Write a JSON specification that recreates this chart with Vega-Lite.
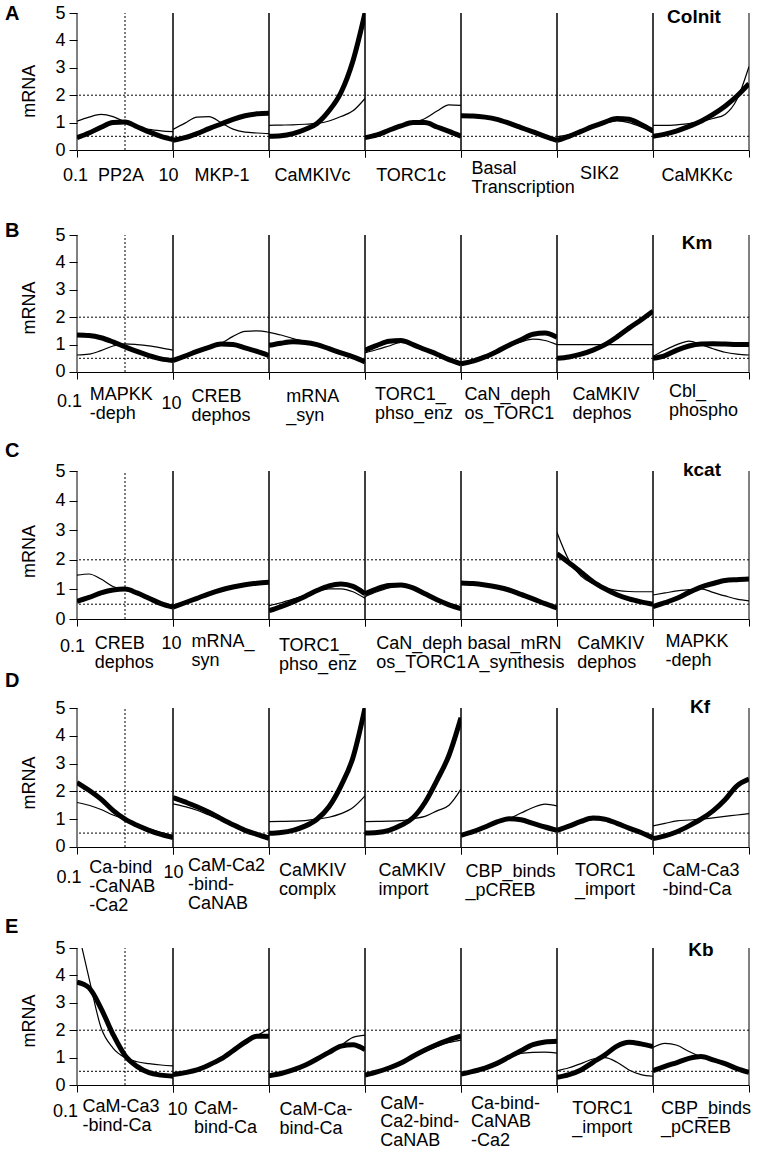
{
"$schema":"https://vega.github.io/schema/vega-lite/v6.json",
"padding":{"left":5,"top":4,"right":4,"bottom":4},
"background":"white",
"columns":7,
"spacing":{"row":85,"column":0},
"bounds":"flush",
"config":{
 "view":{"stroke":null},
 "font":"Liberation Sans",
 "mark":{"color":"#000"},
 "rule":{"color":"#000"},
 "line":{"color":"#000","interpolate":"monotone"},
 "text":{"font":"Liberation Sans","color":"#000"},
 "axis":{"labelFont":"Liberation Sans","titleFont":"Liberation Sans","labelFontSize":18,"titleFontSize":18,"titleFontWeight":"normal","labelColor":"#000","titleColor":"#000","domainColor":"#000","domainWidth":1,"tickColor":"#000","tickWidth":1,"grid":false,"labelOverlap":false},
 "axisX":{"tickSize":7,"labels":false,"titleAlign":"left","titleBaseline":"top","titleLineHeight":19},
 "axisY":{"tickSize":8,"labelPadding":4,"titlePadding":16,"domain":false,"tickCount":10}
},
"datasets":{
 "h":[{"h":0.5},{"h":2}],
 "s":[{"s":0.1},{"s":10}],
 "v":[{"v":1}],
 "o":[{"k":1}],
 "d":[
{"r":"A","p":1,"x":0.1,"a":0.45,"b":1.05},{"r":"A","p":1,"x":0.1778,"a":0.62,"b":1.2},{"r":"A","p":1,"x":0.3162,"a":0.83,"b":1.3},{"r":"A","p":1,"x":0.5623,"a":1.0,"b":1.22},{"r":"A","p":1,"x":1,"a":1.02,"b":1.02},{"r":"A","p":1,"x":1.778,"a":0.85,"b":0.84},{"r":"A","p":1,"x":3.162,"a":0.66,"b":0.75},{"r":"A","p":1,"x":5.623,"a":0.5,"b":0.7},{"r":"A","p":1,"x":10,"a":0.38,"b":0.67},
{"r":"A","p":2,"x":0.1,"a":0.35,"b":0.75},{"r":"A","p":2,"x":0.1778,"a":0.45,"b":0.98},{"r":"A","p":2,"x":0.3162,"a":0.6,"b":1.2},{"r":"A","p":2,"x":0.5623,"a":0.78,"b":1.22},{"r":"A","p":2,"x":1,"a":0.95,"b":1.0},{"r":"A","p":2,"x":1.778,"a":1.12,"b":0.76},{"r":"A","p":2,"x":3.162,"a":1.25,"b":0.65},{"r":"A","p":2,"x":5.623,"a":1.32,"b":0.62},{"r":"A","p":2,"x":10,"a":1.34,"b":0.6},
{"r":"A","p":3,"x":0.1,"a":0.5,"b":0.9},{"r":"A","p":3,"x":0.1778,"a":0.52,"b":0.91},{"r":"A","p":3,"x":0.3162,"a":0.6,"b":0.92},{"r":"A","p":3,"x":0.5623,"a":0.75,"b":0.94},{"r":"A","p":3,"x":1,"a":0.97,"b":0.97},{"r":"A","p":3,"x":1.778,"a":1.43,"b":1.06},{"r":"A","p":3,"x":3.162,"a":2.1,"b":1.22},{"r":"A","p":3,"x":5.623,"a":3.26,"b":1.43},{"r":"A","p":3,"x":10,"a":5.0,"b":1.88},
{"r":"A","p":4,"x":0.1,"a":0.45,"b":0.45},{"r":"A","p":4,"x":0.1778,"a":0.55,"b":0.57},{"r":"A","p":4,"x":0.3162,"a":0.72,"b":0.75},{"r":"A","p":4,"x":0.5623,"a":0.88,"b":0.9},{"r":"A","p":4,"x":1,"a":1.0,"b":1.0},{"r":"A","p":4,"x":1.778,"a":1.0,"b":1.15},{"r":"A","p":4,"x":3.162,"a":0.84,"b":1.42},{"r":"A","p":4,"x":5.623,"a":0.68,"b":1.65},{"r":"A","p":4,"x":10,"a":0.5,"b":1.63},
{"r":"A","p":5,"x":0.1,"a":1.25,"b":1.22},{"r":"A","p":5,"x":0.1778,"a":1.24,"b":1.22},{"r":"A","p":5,"x":0.3162,"a":1.2,"b":1.18},{"r":"A","p":5,"x":0.5623,"a":1.12,"b":1.1},{"r":"A","p":5,"x":1,"a":0.98,"b":0.97},{"r":"A","p":5,"x":1.778,"a":0.82,"b":0.81},{"r":"A","p":5,"x":3.162,"a":0.66,"b":0.65},{"r":"A","p":5,"x":5.623,"a":0.5,"b":0.5},{"r":"A","p":5,"x":10,"a":0.35,"b":0.37},
{"r":"A","p":6,"x":0.1,"a":0.35,"b":0.48},{"r":"A","p":6,"x":0.1778,"a":0.5,"b":0.56},{"r":"A","p":6,"x":0.3162,"a":0.68,"b":0.7},{"r":"A","p":6,"x":0.5623,"a":0.86,"b":0.85},{"r":"A","p":6,"x":1,"a":1.02,"b":0.98},{"r":"A","p":6,"x":1.778,"a":1.15,"b":1.06},{"r":"A","p":6,"x":3.162,"a":1.12,"b":1.0},{"r":"A","p":6,"x":5.623,"a":0.93,"b":0.84},{"r":"A","p":6,"x":10,"a":0.7,"b":0.62},
{"r":"A","p":7,"x":0.1,"a":0.5,"b":0.9},{"r":"A","p":7,"x":0.1778,"a":0.58,"b":0.9},{"r":"A","p":7,"x":0.3162,"a":0.7,"b":0.92},{"r":"A","p":7,"x":0.5623,"a":0.86,"b":0.96},{"r":"A","p":7,"x":1,"a":1.05,"b":1.05},{"r":"A","p":7,"x":1.778,"a":1.3,"b":1.15},{"r":"A","p":7,"x":3.162,"a":1.6,"b":1.3},{"r":"A","p":7,"x":5.623,"a":1.97,"b":1.85},{"r":"A","p":7,"x":10,"a":2.42,"b":3.05},
{"r":"B","p":1,"x":0.1,"a":1.35,"b":0.62},{"r":"B","p":1,"x":0.1778,"a":1.33,"b":0.65},{"r":"B","p":1,"x":0.3162,"a":1.25,"b":0.78},{"r":"B","p":1,"x":0.5623,"a":1.1,"b":0.95},{"r":"B","p":1,"x":1,"a":0.92,"b":1.03},{"r":"B","p":1,"x":1.778,"a":0.75,"b":1.0},{"r":"B","p":1,"x":3.162,"a":0.6,"b":0.95},{"r":"B","p":1,"x":5.623,"a":0.48,"b":0.88},{"r":"B","p":1,"x":10,"a":0.42,"b":0.8},
{"r":"B","p":2,"x":0.1,"a":0.42,"b":0.42},{"r":"B","p":2,"x":0.1778,"a":0.58,"b":0.58},{"r":"B","p":2,"x":0.3162,"a":0.75,"b":0.75},{"r":"B","p":2,"x":0.5623,"a":0.9,"b":0.9},{"r":"B","p":2,"x":1,"a":1.02,"b":1.05},{"r":"B","p":2,"x":1.778,"a":1.0,"b":1.3},{"r":"B","p":2,"x":3.162,"a":0.88,"b":1.48},{"r":"B","p":2,"x":5.623,"a":0.75,"b":1.5},{"r":"B","p":2,"x":10,"a":0.6,"b":1.45},
{"r":"B","p":3,"x":0.1,"a":0.97,"b":1.45},{"r":"B","p":3,"x":0.1778,"a":1.05,"b":1.35},{"r":"B","p":3,"x":0.3162,"a":1.1,"b":1.22},{"r":"B","p":3,"x":0.5623,"a":1.08,"b":1.12},{"r":"B","p":3,"x":1,"a":1.0,"b":1.0},{"r":"B","p":3,"x":1.778,"a":0.85,"b":0.85},{"r":"B","p":3,"x":3.162,"a":0.7,"b":0.7},{"r":"B","p":3,"x":5.623,"a":0.55,"b":0.55},{"r":"B","p":3,"x":10,"a":0.37,"b":0.4},
{"r":"B","p":4,"x":0.1,"a":0.8,"b":0.7},{"r":"B","p":4,"x":0.1778,"a":0.97,"b":0.82},{"r":"B","p":4,"x":0.3162,"a":1.12,"b":0.95},{"r":"B","p":4,"x":0.5623,"a":1.15,"b":1.08},{"r":"B","p":4,"x":1,"a":1.0,"b":1.0},{"r":"B","p":4,"x":1.778,"a":0.82,"b":0.85},{"r":"B","p":4,"x":3.162,"a":0.65,"b":0.65},{"r":"B","p":4,"x":5.623,"a":0.45,"b":0.48},{"r":"B","p":4,"x":10,"a":0.3,"b":0.35},
{"r":"B","p":5,"x":0.1,"a":0.3,"b":0.35},{"r":"B","p":5,"x":0.1778,"a":0.4,"b":0.43},{"r":"B","p":5,"x":0.3162,"a":0.55,"b":0.55},{"r":"B","p":5,"x":0.5623,"a":0.75,"b":0.73},{"r":"B","p":5,"x":1,"a":0.98,"b":0.95},{"r":"B","p":5,"x":1.778,"a":1.18,"b":1.1},{"r":"B","p":5,"x":3.162,"a":1.38,"b":1.2},{"r":"B","p":5,"x":5.623,"a":1.42,"b":1.15},{"r":"B","p":5,"x":10,"a":1.27,"b":1.0},
{"r":"B","p":6,"x":0.1,"a":0.5,"b":1},{"r":"B","p":6,"x":0.1778,"a":0.55,"b":1},{"r":"B","p":6,"x":0.3162,"a":0.65,"b":1},{"r":"B","p":6,"x":0.5623,"a":0.8,"b":1},{"r":"B","p":6,"x":1,"a":1.0,"b":1},{"r":"B","p":6,"x":1.778,"a":1.28,"b":1},{"r":"B","p":6,"x":3.162,"a":1.6,"b":1},{"r":"B","p":6,"x":5.623,"a":1.9,"b":1},{"r":"B","p":6,"x":10,"a":2.22,"b":1},
{"r":"B","p":7,"x":0.1,"a":0.5,"b":0.57},{"r":"B","p":7,"x":0.1778,"a":0.6,"b":0.8},{"r":"B","p":7,"x":0.3162,"a":0.8,"b":1.0},{"r":"B","p":7,"x":0.5623,"a":0.95,"b":1.13},{"r":"B","p":7,"x":1,"a":1.02,"b":1.0},{"r":"B","p":7,"x":1.778,"a":1.03,"b":0.85},{"r":"B","p":7,"x":3.162,"a":1.02,"b":0.72},{"r":"B","p":7,"x":5.623,"a":1.0,"b":0.65},{"r":"B","p":7,"x":10,"a":1.0,"b":0.62},
{"r":"C","p":1,"x":0.1,"a":0.6,"b":1.48},{"r":"C","p":1,"x":0.1778,"a":0.73,"b":1.52},{"r":"C","p":1,"x":0.3162,"a":0.88,"b":1.35},{"r":"C","p":1,"x":0.5623,"a":0.98,"b":1.1},{"r":"C","p":1,"x":1,"a":1.01,"b":1.0},{"r":"C","p":1,"x":1.778,"a":0.88,"b":0.87},{"r":"C","p":1,"x":3.162,"a":0.7,"b":0.7},{"r":"C","p":1,"x":5.623,"a":0.52,"b":0.52},{"r":"C","p":1,"x":10,"a":0.4,"b":0.4},
{"r":"C","p":2,"x":0.1,"a":0.4,"b":0.4},{"r":"C","p":2,"x":0.1778,"a":0.55,"b":0.55},{"r":"C","p":2,"x":0.3162,"a":0.7,"b":0.7},{"r":"C","p":2,"x":0.5623,"a":0.85,"b":0.85},{"r":"C","p":2,"x":1,"a":0.98,"b":0.98},{"r":"C","p":2,"x":1.778,"a":1.08,"b":1.08},{"r":"C","p":2,"x":3.162,"a":1.16,"b":1.15},{"r":"C","p":2,"x":5.623,"a":1.21,"b":1.2},{"r":"C","p":2,"x":10,"a":1.24,"b":1.22},
{"r":"C","p":3,"x":0.1,"a":0.28,"b":0.45},{"r":"C","p":3,"x":0.1778,"a":0.42,"b":0.55},{"r":"C","p":3,"x":0.3162,"a":0.58,"b":0.67},{"r":"C","p":3,"x":0.5623,"a":0.76,"b":0.8},{"r":"C","p":3,"x":1,"a":0.96,"b":0.93},{"r":"C","p":3,"x":1.778,"a":1.12,"b":1.02},{"r":"C","p":3,"x":3.162,"a":1.18,"b":1.02},{"r":"C","p":3,"x":5.623,"a":1.1,"b":0.92},{"r":"C","p":3,"x":10,"a":0.85,"b":0.7},
{"r":"C","p":4,"x":0.1,"a":0.85,"b":0.75},{"r":"C","p":4,"x":0.1778,"a":1.02,"b":0.92},{"r":"C","p":4,"x":0.3162,"a":1.13,"b":1.05},{"r":"C","p":4,"x":0.5623,"a":1.15,"b":1.1},{"r":"C","p":4,"x":1,"a":1.05,"b":1.03},{"r":"C","p":4,"x":1.778,"a":0.85,"b":0.83},{"r":"C","p":4,"x":3.162,"a":0.65,"b":0.62},{"r":"C","p":4,"x":5.623,"a":0.48,"b":0.45},{"r":"C","p":4,"x":10,"a":0.35,"b":0.3},
{"r":"C","p":5,"x":0.1,"a":1.22,"b":1.2},{"r":"C","p":5,"x":0.1778,"a":1.2,"b":1.19},{"r":"C","p":5,"x":0.3162,"a":1.15,"b":1.14},{"r":"C","p":5,"x":0.5623,"a":1.08,"b":1.07},{"r":"C","p":5,"x":1,"a":0.98,"b":0.97},{"r":"C","p":5,"x":1.778,"a":0.83,"b":0.82},{"r":"C","p":5,"x":3.162,"a":0.68,"b":0.67},{"r":"C","p":5,"x":5.623,"a":0.52,"b":0.51},{"r":"C","p":5,"x":10,"a":0.37,"b":0.36},
{"r":"C","p":6,"x":0.1,"a":2.2,"b":2.92},{"r":"C","p":6,"x":0.1778,"a":1.9,"b":1.98},{"r":"C","p":6,"x":0.3162,"a":1.58,"b":1.45},{"r":"C","p":6,"x":0.5623,"a":1.26,"b":1.2},{"r":"C","p":6,"x":1,"a":1.02,"b":1.05},{"r":"C","p":6,"x":1.778,"a":0.82,"b":0.97},{"r":"C","p":6,"x":3.162,"a":0.68,"b":0.93},{"r":"C","p":6,"x":5.623,"a":0.58,"b":0.92},{"r":"C","p":6,"x":10,"a":0.5,"b":0.92},
{"r":"C","p":7,"x":0.1,"a":0.42,"b":0.81},{"r":"C","p":7,"x":0.1778,"a":0.55,"b":0.88},{"r":"C","p":7,"x":0.3162,"a":0.7,"b":0.95},{"r":"C","p":7,"x":0.5623,"a":0.9,"b":0.99},{"r":"C","p":7,"x":1,"a":1.08,"b":1.02},{"r":"C","p":7,"x":1.778,"a":1.2,"b":0.9},{"r":"C","p":7,"x":3.162,"a":1.3,"b":0.78},{"r":"C","p":7,"x":5.623,"a":1.33,"b":0.67},{"r":"C","p":7,"x":10,"a":1.35,"b":0.61},
{"r":"D","p":1,"x":0.1,"a":2.32,"b":1.6},{"r":"D","p":1,"x":0.1778,"a":2.04,"b":1.5},{"r":"D","p":1,"x":0.3162,"a":1.72,"b":1.35},{"r":"D","p":1,"x":0.5623,"a":1.32,"b":1.15},{"r":"D","p":1,"x":1,"a":1.0,"b":1.0},{"r":"D","p":1,"x":1.778,"a":0.78,"b":0.82},{"r":"D","p":1,"x":3.162,"a":0.6,"b":0.65},{"r":"D","p":1,"x":5.623,"a":0.45,"b":0.52},{"r":"D","p":1,"x":10,"a":0.34,"b":0.42},
{"r":"D","p":2,"x":0.1,"a":1.78,"b":1.55},{"r":"D","p":2,"x":0.1778,"a":1.62,"b":1.45},{"r":"D","p":2,"x":0.3162,"a":1.45,"b":1.32},{"r":"D","p":2,"x":0.5623,"a":1.25,"b":1.15},{"r":"D","p":2,"x":1,"a":1.02,"b":0.98},{"r":"D","p":2,"x":1.778,"a":0.8,"b":0.8},{"r":"D","p":2,"x":3.162,"a":0.6,"b":0.62},{"r":"D","p":2,"x":5.623,"a":0.45,"b":0.48},{"r":"D","p":2,"x":10,"a":0.31,"b":0.4},
{"r":"D","p":3,"x":0.1,"a":0.49,"b":0.91},{"r":"D","p":3,"x":0.1778,"a":0.52,"b":0.92},{"r":"D","p":3,"x":0.3162,"a":0.6,"b":0.93},{"r":"D","p":3,"x":0.5623,"a":0.75,"b":0.95},{"r":"D","p":3,"x":1,"a":1.0,"b":1.0},{"r":"D","p":3,"x":1.778,"a":1.45,"b":1.07},{"r":"D","p":3,"x":3.162,"a":2.2,"b":1.2},{"r":"D","p":3,"x":5.623,"a":3.22,"b":1.42},{"r":"D","p":3,"x":10,"a":5.0,"b":1.84},
{"r":"D","p":4,"x":0.1,"a":0.5,"b":0.91},{"r":"D","p":4,"x":0.1778,"a":0.52,"b":0.92},{"r":"D","p":4,"x":0.3162,"a":0.6,"b":0.93},{"r":"D","p":4,"x":0.5623,"a":0.78,"b":0.95},{"r":"D","p":4,"x":1,"a":1.05,"b":1.02},{"r":"D","p":4,"x":1.778,"a":1.6,"b":1.1},{"r":"D","p":4,"x":3.162,"a":2.4,"b":1.3},{"r":"D","p":4,"x":5.623,"a":3.3,"b":1.5},{"r":"D","p":4,"x":10,"a":4.65,"b":2.08},
{"r":"D","p":5,"x":0.1,"a":0.42,"b":0.42},{"r":"D","p":5,"x":0.1778,"a":0.55,"b":0.55},{"r":"D","p":5,"x":0.3162,"a":0.72,"b":0.72},{"r":"D","p":5,"x":0.5623,"a":0.9,"b":0.9},{"r":"D","p":5,"x":1,"a":1.02,"b":1.02},{"r":"D","p":5,"x":1.778,"a":0.98,"b":1.22},{"r":"D","p":5,"x":3.162,"a":0.85,"b":1.42},{"r":"D","p":5,"x":5.623,"a":0.72,"b":1.54},{"r":"D","p":5,"x":10,"a":0.6,"b":1.48},
{"r":"D","p":6,"x":0.1,"a":0.6,"b":0.6},{"r":"D","p":6,"x":0.1778,"a":0.75,"b":0.72},{"r":"D","p":6,"x":0.3162,"a":0.92,"b":0.88},{"r":"D","p":6,"x":0.5623,"a":1.04,"b":0.98},{"r":"D","p":6,"x":1,"a":1.0,"b":0.97},{"r":"D","p":6,"x":1.778,"a":0.85,"b":0.85},{"r":"D","p":6,"x":3.162,"a":0.68,"b":0.7},{"r":"D","p":6,"x":5.623,"a":0.52,"b":0.55},{"r":"D","p":6,"x":10,"a":0.32,"b":0.42},
{"r":"D","p":7,"x":0.1,"a":0.3,"b":0.76},{"r":"D","p":7,"x":0.1778,"a":0.4,"b":0.85},{"r":"D","p":7,"x":0.3162,"a":0.55,"b":0.94},{"r":"D","p":7,"x":0.5623,"a":0.76,"b":0.97},{"r":"D","p":7,"x":1,"a":1.0,"b":1.0},{"r":"D","p":7,"x":1.778,"a":1.3,"b":1.05},{"r":"D","p":7,"x":3.162,"a":1.7,"b":1.1},{"r":"D","p":7,"x":5.623,"a":2.2,"b":1.15},{"r":"D","p":7,"x":10,"a":2.44,"b":1.2},
{"r":"E","p":1,"x":0.1,"a":3.75,"b":5.8},{"r":"E","p":1,"x":0.1778,"a":3.55,"b":3.9},{"r":"E","p":1,"x":0.3162,"a":2.8,"b":2.1},{"r":"E","p":1,"x":0.5623,"a":1.85,"b":1.35},{"r":"E","p":1,"x":1,"a":1.08,"b":1.0},{"r":"E","p":1,"x":1.778,"a":0.68,"b":0.85},{"r":"E","p":1,"x":3.162,"a":0.45,"b":0.78},{"r":"E","p":1,"x":5.623,"a":0.36,"b":0.73},{"r":"E","p":1,"x":10,"a":0.32,"b":0.7},
{"r":"E","p":2,"x":0.1,"a":0.38,"b":0.38},{"r":"E","p":2,"x":0.1778,"a":0.45,"b":0.45},{"r":"E","p":2,"x":0.3162,"a":0.55,"b":0.55},{"r":"E","p":2,"x":0.5623,"a":0.73,"b":0.73},{"r":"E","p":2,"x":1,"a":0.95,"b":0.95},{"r":"E","p":2,"x":1.778,"a":1.25,"b":1.25},{"r":"E","p":2,"x":3.162,"a":1.56,"b":1.56},{"r":"E","p":2,"x":5.623,"a":1.78,"b":1.8},{"r":"E","p":2,"x":10,"a":1.78,"b":2.05},
{"r":"E","p":3,"x":0.1,"a":0.34,"b":0.34},{"r":"E","p":3,"x":0.1778,"a":0.42,"b":0.42},{"r":"E","p":3,"x":0.3162,"a":0.55,"b":0.55},{"r":"E","p":3,"x":0.5623,"a":0.72,"b":0.72},{"r":"E","p":3,"x":1,"a":0.95,"b":0.95},{"r":"E","p":3,"x":1.778,"a":1.19,"b":1.2},{"r":"E","p":3,"x":3.162,"a":1.42,"b":1.45},{"r":"E","p":3,"x":5.623,"a":1.47,"b":1.74},{"r":"E","p":3,"x":10,"a":1.29,"b":1.82},
{"r":"E","p":4,"x":0.1,"a":0.36,"b":0.36},{"r":"E","p":4,"x":0.1778,"a":0.48,"b":0.48},{"r":"E","p":4,"x":0.3162,"a":0.62,"b":0.62},{"r":"E","p":4,"x":0.5623,"a":0.8,"b":0.8},{"r":"E","p":4,"x":1,"a":1.05,"b":1.03},{"r":"E","p":4,"x":1.778,"a":1.28,"b":1.22},{"r":"E","p":4,"x":3.162,"a":1.48,"b":1.4},{"r":"E","p":4,"x":5.623,"a":1.65,"b":1.55},{"r":"E","p":4,"x":10,"a":1.78,"b":1.64},
{"r":"E","p":5,"x":0.1,"a":0.4,"b":0.4},{"r":"E","p":5,"x":0.1778,"a":0.5,"b":0.5},{"r":"E","p":5,"x":0.3162,"a":0.62,"b":0.62},{"r":"E","p":5,"x":0.5623,"a":0.79,"b":0.79},{"r":"E","p":5,"x":1,"a":1.02,"b":1.0},{"r":"E","p":5,"x":1.778,"a":1.25,"b":1.15},{"r":"E","p":5,"x":3.162,"a":1.47,"b":1.19},{"r":"E","p":5,"x":5.623,"a":1.57,"b":1.2},{"r":"E","p":5,"x":10,"a":1.6,"b":1.16},
{"r":"E","p":6,"x":0.1,"a":0.28,"b":0.52},{"r":"E","p":6,"x":0.1778,"a":0.38,"b":0.63},{"r":"E","p":6,"x":0.3162,"a":0.55,"b":0.78},{"r":"E","p":6,"x":0.5623,"a":0.83,"b":0.95},{"r":"E","p":6,"x":1,"a":1.1,"b":1.0},{"r":"E","p":6,"x":1.778,"a":1.42,"b":0.83},{"r":"E","p":6,"x":3.162,"a":1.56,"b":0.55},{"r":"E","p":6,"x":5.623,"a":1.5,"b":0.38},{"r":"E","p":6,"x":10,"a":1.4,"b":0.32},
{"r":"E","p":7,"x":0.1,"a":0.52,"b":1.37},{"r":"E","p":7,"x":0.1778,"a":0.68,"b":1.52},{"r":"E","p":7,"x":0.3162,"a":0.82,"b":1.45},{"r":"E","p":7,"x":0.5623,"a":0.97,"b":1.22},{"r":"E","p":7,"x":1,"a":1.04,"b":1.03},{"r":"E","p":7,"x":1.778,"a":0.92,"b":0.9},{"r":"E","p":7,"x":3.162,"a":0.78,"b":0.75},{"r":"E","p":7,"x":5.623,"a":0.6,"b":0.6},{"r":"E","p":7,"x":10,"a":0.46,"b":0.46}
 ]
},
"concat":[
{"width":96,"height":137,"layer":[
{"data":{"name":"h"},"mark":{"type":"rule","strokeDash":[2,2]},"encoding":{"y":{"field":"h","type":"quantitative","scale":{"domain":[0,5],"nice":false},"axis":{"values":[0,1,2,3,4,5],"tickCount":10,"format":"d","title":"mRNA","titleY":77.7}}}},
{"data":{"name":"s"},"mark":{"type":"rule"},"encoding":{"x":{"field":"s","type":"quantitative","scale":{"type":"log","domain":[0.1,10]}},"y":{"datum":0},"y2":{"datum":5}}},
{"data":{"name":"v"},"mark":{"type":"rule","strokeDash":[2,2]},"encoding":{"x":{"field":"v","type":"quantitative","scale":{"type":"log","domain":[0.1,10]}},"y":{"datum":0},"y2":{"datum":5}}},
{"data":{"name":"d"},"transform":[{"filter":"datum.r=='A'&&datum.p==1"}],"mark":{"type":"line","strokeWidth":1.2,"clip":true},"encoding":{"x":{"field":"x","type":"quantitative","scale":{"type":"log","domain":[0.1,10]},"axis":{"values":[0.1,10],"labels":true,"labelFlush":false,"format":"~g","labelPadding":9.3,"labelOffset":{"condition":{"test":"datum.value<1","value":-2},"value":-5},"title":"PP2A","titleX":20.6,"titleY":16}},"y":{"field":"b","type":"quantitative","scale":{"domain":[0,5],"nice":false}}}},
{"data":{"name":"d"},"transform":[{"filter":"datum.r=='A'&&datum.p==1"}],"mark":{"type":"line","strokeWidth":5,"clip":true},"encoding":{"x":{"field":"x","type":"quantitative","scale":{"type":"log","domain":[0.1,10]}},"y":{"field":"a","type":"quantitative","scale":{"domain":[0,5],"nice":false}}}},
{"data":{"name":"o"},"mark":{"type":"text","text":"A","fontSize":20,"fontWeight":"bold","align":"left","baseline":"middle","dx":-72,"dy":1},"encoding":{"x":{"datum":0.1},"y":{"datum":5}}}
]},
{"width":96,"height":137,"layer":[
{"data":{"name":"h"},"mark":{"type":"rule","strokeDash":[2,2]},"encoding":{"y":{"field":"h","type":"quantitative","scale":{"domain":[0,5],"nice":false},"axis":null}}},
{"data":{"name":"s"},"mark":{"type":"rule"},"encoding":{"x":{"field":"s","type":"quantitative","scale":{"type":"log","domain":[0.1,10]}},"y":{"datum":0,"axis":null},"y2":{"datum":5}}},
{"data":{"name":"d"},"transform":[{"filter":"datum.r=='A'&&datum.p==2"}],"mark":{"type":"line","strokeWidth":1.2,"clip":true},"encoding":{"x":{"field":"x","type":"quantitative","scale":{"type":"log","domain":[0.1,10]},"axis":{"values":[0.1,10],"title":"MKP-1","titleX":21,"titleY":16}},"y":{"field":"b","type":"quantitative","scale":{"domain":[0,5],"nice":false},"axis":null}}},
{"data":{"name":"d"},"transform":[{"filter":"datum.r=='A'&&datum.p==2"}],"mark":{"type":"line","strokeWidth":5,"clip":true},"encoding":{"x":{"field":"x","type":"quantitative","scale":{"type":"log","domain":[0.1,10]}},"y":{"field":"a","type":"quantitative","scale":{"domain":[0,5],"nice":false},"axis":null}}}
]},
{"width":96,"height":137,"layer":[
{"data":{"name":"h"},"mark":{"type":"rule","strokeDash":[2,2]},"encoding":{"y":{"field":"h","type":"quantitative","scale":{"domain":[0,5],"nice":false},"axis":null}}},
{"data":{"name":"s"},"mark":{"type":"rule"},"encoding":{"x":{"field":"s","type":"quantitative","scale":{"type":"log","domain":[0.1,10]}},"y":{"datum":0,"axis":null},"y2":{"datum":5}}},
{"data":{"name":"d"},"transform":[{"filter":"datum.r=='A'&&datum.p==3"}],"mark":{"type":"line","strokeWidth":1.2,"clip":true},"encoding":{"x":{"field":"x","type":"quantitative","scale":{"type":"log","domain":[0.1,10]},"axis":{"values":[0.1,10],"title":"CaMKIVc","titleX":5,"titleY":16}},"y":{"field":"b","type":"quantitative","scale":{"domain":[0,5],"nice":false},"axis":null}}},
{"data":{"name":"d"},"transform":[{"filter":"datum.r=='A'&&datum.p==3"}],"mark":{"type":"line","strokeWidth":5,"clip":true},"encoding":{"x":{"field":"x","type":"quantitative","scale":{"type":"log","domain":[0.1,10]}},"y":{"field":"a","type":"quantitative","scale":{"domain":[0,5],"nice":false},"axis":null}}}
]},
{"width":96,"height":137,"layer":[
{"data":{"name":"h"},"mark":{"type":"rule","strokeDash":[2,2]},"encoding":{"y":{"field":"h","type":"quantitative","scale":{"domain":[0,5],"nice":false},"axis":null}}},
{"data":{"name":"s"},"mark":{"type":"rule"},"encoding":{"x":{"field":"s","type":"quantitative","scale":{"type":"log","domain":[0.1,10]}},"y":{"datum":0,"axis":null},"y2":{"datum":5}}},
{"data":{"name":"d"},"transform":[{"filter":"datum.r=='A'&&datum.p==4"}],"mark":{"type":"line","strokeWidth":1.2,"clip":true},"encoding":{"x":{"field":"x","type":"quantitative","scale":{"type":"log","domain":[0.1,10]},"axis":{"values":[0.1,10],"title":"TORC1c","titleX":10.7,"titleY":16}},"y":{"field":"b","type":"quantitative","scale":{"domain":[0,5],"nice":false},"axis":null}}},
{"data":{"name":"d"},"transform":[{"filter":"datum.r=='A'&&datum.p==4"}],"mark":{"type":"line","strokeWidth":5,"clip":true},"encoding":{"x":{"field":"x","type":"quantitative","scale":{"type":"log","domain":[0.1,10]}},"y":{"field":"a","type":"quantitative","scale":{"domain":[0,5],"nice":false},"axis":null}}}
]},
{"width":96,"height":137,"layer":[
{"data":{"name":"h"},"mark":{"type":"rule","strokeDash":[2,2]},"encoding":{"y":{"field":"h","type":"quantitative","scale":{"domain":[0,5],"nice":false},"axis":null}}},
{"data":{"name":"s"},"mark":{"type":"rule"},"encoding":{"x":{"field":"s","type":"quantitative","scale":{"type":"log","domain":[0.1,10]}},"y":{"datum":0,"axis":null},"y2":{"datum":5}}},
{"data":{"name":"d"},"transform":[{"filter":"datum.r=='A'&&datum.p==5"}],"mark":{"type":"line","strokeWidth":1.2,"clip":true},"encoding":{"x":{"field":"x","type":"quantitative","scale":{"type":"log","domain":[0.1,10]},"axis":{"values":[0.1,10],"title":["Basal","Transcription"],"titleX":10,"titleY":9.7}},"y":{"field":"b","type":"quantitative","scale":{"domain":[0,5],"nice":false},"axis":null}}},
{"data":{"name":"d"},"transform":[{"filter":"datum.r=='A'&&datum.p==5"}],"mark":{"type":"line","strokeWidth":5,"clip":true},"encoding":{"x":{"field":"x","type":"quantitative","scale":{"type":"log","domain":[0.1,10]}},"y":{"field":"a","type":"quantitative","scale":{"domain":[0,5],"nice":false},"axis":null}}}
]},
{"width":96,"height":137,"layer":[
{"data":{"name":"h"},"mark":{"type":"rule","strokeDash":[2,2]},"encoding":{"y":{"field":"h","type":"quantitative","scale":{"domain":[0,5],"nice":false},"axis":null}}},
{"data":{"name":"s"},"mark":{"type":"rule"},"encoding":{"x":{"field":"s","type":"quantitative","scale":{"type":"log","domain":[0.1,10]}},"y":{"datum":0,"axis":null},"y2":{"datum":5}}},
{"data":{"name":"d"},"transform":[{"filter":"datum.r=='A'&&datum.p==6"}],"mark":{"type":"line","strokeWidth":1.2,"clip":true},"encoding":{"x":{"field":"x","type":"quantitative","scale":{"type":"log","domain":[0.1,10]},"axis":{"values":[0.1,10],"title":"SIK2","titleX":22.4,"titleY":14.7}},"y":{"field":"b","type":"quantitative","scale":{"domain":[0,5],"nice":false},"axis":null}}},
{"data":{"name":"d"},"transform":[{"filter":"datum.r=='A'&&datum.p==6"}],"mark":{"type":"line","strokeWidth":5,"clip":true},"encoding":{"x":{"field":"x","type":"quantitative","scale":{"type":"log","domain":[0.1,10]}},"y":{"field":"a","type":"quantitative","scale":{"domain":[0,5],"nice":false},"axis":null}}}
]},
{"width":96,"height":137,"layer":[
{"data":{"name":"h"},"mark":{"type":"rule","strokeDash":[2,2]},"encoding":{"y":{"field":"h","type":"quantitative","scale":{"domain":[0,5],"nice":false},"axis":null}}},
{"data":{"name":"s"},"mark":{"type":"rule"},"encoding":{"x":{"field":"s","type":"quantitative","scale":{"type":"log","domain":[0.1,10]}},"y":{"datum":0,"axis":null},"y2":{"datum":5}}},
{"data":{"name":"d"},"transform":[{"filter":"datum.r=='A'&&datum.p==7"}],"mark":{"type":"line","strokeWidth":1.2,"clip":true},"encoding":{"x":{"field":"x","type":"quantitative","scale":{"type":"log","domain":[0.1,10]},"axis":{"values":[0.1,10],"title":"CaMKKc","titleX":8,"titleY":16}},"y":{"field":"b","type":"quantitative","scale":{"domain":[0,5],"nice":false},"axis":null}}},
{"data":{"name":"d"},"transform":[{"filter":"datum.r=='A'&&datum.p==7"}],"mark":{"type":"line","strokeWidth":5,"clip":true},"encoding":{"x":{"field":"x","type":"quantitative","scale":{"type":"log","domain":[0.1,10]}},"y":{"field":"a","type":"quantitative","scale":{"domain":[0,5],"nice":false},"axis":null}}},
{"data":{"name":"o"},"mark":{"type":"text","text":"Colnit","fontSize":19,"fontWeight":"bold","align":"center","baseline":"middle","dx":-7,"dy":3.8},"encoding":{"x":{"datum":1},"y":{"datum":5,"axis":null}}}
]},
{"width":96,"height":151,"layer":[
{"data":{"name":"h"},"mark":{"type":"rule","strokeDash":[2,2]},"encoding":{"y":{"field":"h","type":"quantitative","scale":{"domain":[-0.511,5],"nice":false},"axis":{"values":[0,1,2,3,4,5],"tickCount":10,"format":"d","title":"mRNA","titleY":72.5}}}},
{"data":{"name":"s"},"mark":{"type":"rule"},"encoding":{"x":{"field":"s","type":"quantitative","scale":{"type":"log","domain":[0.1,10]}},"y":{"datum":0},"y2":{"datum":5}}},
{"data":{"name":"v"},"mark":{"type":"rule","strokeDash":[2,2]},"encoding":{"x":{"field":"v","type":"quantitative","scale":{"type":"log","domain":[0.1,10]}},"y":{"datum":0},"y2":{"datum":5}}},
{"data":{"name":"d"},"transform":[{"filter":"datum.r=='B'&&datum.p==1"}],"mark":{"type":"line","strokeWidth":1.2,"clip":true},"encoding":{"x":{"field":"x","type":"quantitative","scale":{"type":"log","domain":[0.1,10]},"axis":{"values":[0.1,10],"offset":-14,"labels":true,"labelFlush":false,"format":"~g","labelPadding":{"condition":{"test":"datum.value<1","value":13.4},"value":15},"labelOffset":{"condition":{"test":"datum.value<1","value":-8},"value":-2},"title":["MAPKK","-deph"],"titleX":12.3,"titleY":13.5}},"y":{"field":"b","type":"quantitative","scale":{"domain":[-0.511,5],"nice":false}}}},
{"data":{"name":"d"},"transform":[{"filter":"datum.r=='B'&&datum.p==1"}],"mark":{"type":"line","strokeWidth":5,"clip":true},"encoding":{"x":{"field":"x","type":"quantitative","scale":{"type":"log","domain":[0.1,10]}},"y":{"field":"a","type":"quantitative","scale":{"domain":[-0.511,5],"nice":false}}}},
{"data":{"name":"o"},"mark":{"type":"text","text":"B","fontSize":20,"fontWeight":"bold","align":"left","baseline":"middle","dx":-72,"dy":-4},"encoding":{"x":{"datum":0.1},"y":{"datum":5}}}
]},
{"width":96,"height":151,"layer":[
{"data":{"name":"h"},"mark":{"type":"rule","strokeDash":[2,2]},"encoding":{"y":{"field":"h","type":"quantitative","scale":{"domain":[-0.511,5],"nice":false},"axis":null}}},
{"data":{"name":"s"},"mark":{"type":"rule"},"encoding":{"x":{"field":"s","type":"quantitative","scale":{"type":"log","domain":[0.1,10]}},"y":{"datum":0,"axis":null},"y2":{"datum":5}}},
{"data":{"name":"d"},"transform":[{"filter":"datum.r=='B'&&datum.p==2"}],"mark":{"type":"line","strokeWidth":1.2,"clip":true},"encoding":{"x":{"field":"x","type":"quantitative","scale":{"type":"log","domain":[0.1,10]},"axis":{"values":[0.1,10],"offset":-14,"title":["CREB","dephos"],"titleX":18,"titleY":15.4}},"y":{"field":"b","type":"quantitative","scale":{"domain":[-0.511,5],"nice":false},"axis":null}}},
{"data":{"name":"d"},"transform":[{"filter":"datum.r=='B'&&datum.p==2"}],"mark":{"type":"line","strokeWidth":5,"clip":true},"encoding":{"x":{"field":"x","type":"quantitative","scale":{"type":"log","domain":[0.1,10]}},"y":{"field":"a","type":"quantitative","scale":{"domain":[-0.511,5],"nice":false},"axis":null}}}
]},
{"width":96,"height":151,"layer":[
{"data":{"name":"h"},"mark":{"type":"rule","strokeDash":[2,2]},"encoding":{"y":{"field":"h","type":"quantitative","scale":{"domain":[-0.511,5],"nice":false},"axis":null}}},
{"data":{"name":"s"},"mark":{"type":"rule"},"encoding":{"x":{"field":"s","type":"quantitative","scale":{"type":"log","domain":[0.1,10]}},"y":{"datum":0,"axis":null},"y2":{"datum":5}}},
{"data":{"name":"d"},"transform":[{"filter":"datum.r=='B'&&datum.p==3"}],"mark":{"type":"line","strokeWidth":1.2,"clip":true},"encoding":{"x":{"field":"x","type":"quantitative","scale":{"type":"log","domain":[0.1,10]},"axis":{"values":[0.1,10],"offset":-14,"title":["mRNA","_syn"],"titleX":16.8,"titleY":15.4}},"y":{"field":"b","type":"quantitative","scale":{"domain":[-0.511,5],"nice":false},"axis":null}}},
{"data":{"name":"d"},"transform":[{"filter":"datum.r=='B'&&datum.p==3"}],"mark":{"type":"line","strokeWidth":5,"clip":true},"encoding":{"x":{"field":"x","type":"quantitative","scale":{"type":"log","domain":[0.1,10]}},"y":{"field":"a","type":"quantitative","scale":{"domain":[-0.511,5],"nice":false},"axis":null}}}
]},
{"width":96,"height":151,"layer":[
{"data":{"name":"h"},"mark":{"type":"rule","strokeDash":[2,2]},"encoding":{"y":{"field":"h","type":"quantitative","scale":{"domain":[-0.511,5],"nice":false},"axis":null}}},
{"data":{"name":"s"},"mark":{"type":"rule"},"encoding":{"x":{"field":"s","type":"quantitative","scale":{"type":"log","domain":[0.1,10]}},"y":{"datum":0,"axis":null},"y2":{"datum":5}}},
{"data":{"name":"d"},"transform":[{"filter":"datum.r=='B'&&datum.p==4"}],"mark":{"type":"line","strokeWidth":1.2,"clip":true},"encoding":{"x":{"field":"x","type":"quantitative","scale":{"type":"log","domain":[0.1,10]},"axis":{"values":[0.1,10],"offset":-14,"title":["TORC1_","phso_enz"],"titleX":9.5,"titleY":13.5}},"y":{"field":"b","type":"quantitative","scale":{"domain":[-0.511,5],"nice":false},"axis":null}}},
{"data":{"name":"d"},"transform":[{"filter":"datum.r=='B'&&datum.p==4"}],"mark":{"type":"line","strokeWidth":5,"clip":true},"encoding":{"x":{"field":"x","type":"quantitative","scale":{"type":"log","domain":[0.1,10]}},"y":{"field":"a","type":"quantitative","scale":{"domain":[-0.511,5],"nice":false},"axis":null}}}
]},
{"width":96,"height":151,"layer":[
{"data":{"name":"h"},"mark":{"type":"rule","strokeDash":[2,2]},"encoding":{"y":{"field":"h","type":"quantitative","scale":{"domain":[-0.511,5],"nice":false},"axis":null}}},
{"data":{"name":"s"},"mark":{"type":"rule"},"encoding":{"x":{"field":"s","type":"quantitative","scale":{"type":"log","domain":[0.1,10]}},"y":{"datum":0,"axis":null},"y2":{"datum":5}}},
{"data":{"name":"d"},"transform":[{"filter":"datum.r=='B'&&datum.p==5"}],"mark":{"type":"line","strokeWidth":1.2,"clip":true},"encoding":{"x":{"field":"x","type":"quantitative","scale":{"type":"log","domain":[0.1,10]},"axis":{"values":[0.1,10],"offset":-14,"title":["CaN_deph","os_TORC1"],"titleX":3,"titleY":13.5}},"y":{"field":"b","type":"quantitative","scale":{"domain":[-0.511,5],"nice":false},"axis":null}}},
{"data":{"name":"d"},"transform":[{"filter":"datum.r=='B'&&datum.p==5"}],"mark":{"type":"line","strokeWidth":5,"clip":true},"encoding":{"x":{"field":"x","type":"quantitative","scale":{"type":"log","domain":[0.1,10]}},"y":{"field":"a","type":"quantitative","scale":{"domain":[-0.511,5],"nice":false},"axis":null}}}
]},
{"width":96,"height":151,"layer":[
{"data":{"name":"h"},"mark":{"type":"rule","strokeDash":[2,2]},"encoding":{"y":{"field":"h","type":"quantitative","scale":{"domain":[-0.511,5],"nice":false},"axis":null}}},
{"data":{"name":"s"},"mark":{"type":"rule"},"encoding":{"x":{"field":"s","type":"quantitative","scale":{"type":"log","domain":[0.1,10]}},"y":{"datum":0,"axis":null},"y2":{"datum":5}}},
{"data":{"name":"d"},"transform":[{"filter":"datum.r=='B'&&datum.p==6"}],"mark":{"type":"line","strokeWidth":1.2,"clip":true},"encoding":{"x":{"field":"x","type":"quantitative","scale":{"type":"log","domain":[0.1,10]},"axis":{"values":[0.1,10],"offset":-14,"title":["CaMKIV","dephos"],"titleX":15,"titleY":13.5}},"y":{"field":"b","type":"quantitative","scale":{"domain":[-0.511,5],"nice":false},"axis":null}}},
{"data":{"name":"d"},"transform":[{"filter":"datum.r=='B'&&datum.p==6"}],"mark":{"type":"line","strokeWidth":5,"clip":true},"encoding":{"x":{"field":"x","type":"quantitative","scale":{"type":"log","domain":[0.1,10]}},"y":{"field":"a","type":"quantitative","scale":{"domain":[-0.511,5],"nice":false},"axis":null}}}
]},
{"width":96,"height":151,"layer":[
{"data":{"name":"h"},"mark":{"type":"rule","strokeDash":[2,2]},"encoding":{"y":{"field":"h","type":"quantitative","scale":{"domain":[-0.511,5],"nice":false},"axis":null}}},
{"data":{"name":"s"},"mark":{"type":"rule"},"encoding":{"x":{"field":"s","type":"quantitative","scale":{"type":"log","domain":[0.1,10]}},"y":{"datum":0,"axis":null},"y2":{"datum":5}}},
{"data":{"name":"d"},"transform":[{"filter":"datum.r=='B'&&datum.p==7"}],"mark":{"type":"line","strokeWidth":1.2,"clip":true},"encoding":{"x":{"field":"x","type":"quantitative","scale":{"type":"log","domain":[0.1,10]},"axis":{"values":[0.1,10],"offset":-14,"title":["Cbl_","phospho"],"titleX":15.4,"titleY":10.5}},"y":{"field":"b","type":"quantitative","scale":{"domain":[-0.511,5],"nice":false},"axis":null}}},
{"data":{"name":"d"},"transform":[{"filter":"datum.r=='B'&&datum.p==7"}],"mark":{"type":"line","strokeWidth":5,"clip":true},"encoding":{"x":{"field":"x","type":"quantitative","scale":{"type":"log","domain":[0.1,10]}},"y":{"field":"a","type":"quantitative","scale":{"domain":[-0.511,5],"nice":false},"axis":null}}},
{"data":{"name":"o"},"mark":{"type":"text","text":"Km","fontSize":19,"fontWeight":"bold","align":"center","baseline":"middle","dx":-4,"dy":8},"encoding":{"x":{"datum":1},"y":{"datum":5,"axis":null}}}
]},
{"width":96,"height":152,"layer":[
{"data":{"name":"h"},"mark":{"type":"rule","strokeDash":[2,2]},"encoding":{"y":{"field":"h","type":"quantitative","scale":{"domain":[-0.135,5],"nice":false},"axis":{"values":[0,1,2,3,4,5],"tickCount":10,"format":"d","title":"mRNA","titleY":80}}}},
{"data":{"name":"s"},"mark":{"type":"rule"},"encoding":{"x":{"field":"s","type":"quantitative","scale":{"type":"log","domain":[0.1,10]}},"y":{"datum":0},"y2":{"datum":5}}},
{"data":{"name":"v"},"mark":{"type":"rule","strokeDash":[2,2]},"encoding":{"x":{"field":"v","type":"quantitative","scale":{"type":"log","domain":[0.1,10]}},"y":{"datum":0},"y2":{"datum":5}}},
{"data":{"name":"d"},"transform":[{"filter":"datum.r=='C'&&datum.p==1"}],"mark":{"type":"line","strokeWidth":1.2,"clip":true},"encoding":{"x":{"field":"x","type":"quantitative","scale":{"type":"log","domain":[0.1,10]},"axis":{"values":[0.1,10],"offset":-4,"labels":true,"labelFlush":false,"format":"~g","labelPadding":{"condition":{"test":"datum.value<1","value":11.7},"value":8.4},"labelOffset":{"condition":{"test":"datum.value<1","value":-5},"value":-2},"title":["CREB","dephos"],"titleX":17.3,"titleY":15.4}},"y":{"field":"b","type":"quantitative","scale":{"domain":[-0.135,5],"nice":false}}}},
{"data":{"name":"d"},"transform":[{"filter":"datum.r=='C'&&datum.p==1"}],"mark":{"type":"line","strokeWidth":5,"clip":true},"encoding":{"x":{"field":"x","type":"quantitative","scale":{"type":"log","domain":[0.1,10]}},"y":{"field":"a","type":"quantitative","scale":{"domain":[-0.135,5],"nice":false}}}},
{"data":{"name":"o"},"mark":{"type":"text","text":"C","fontSize":20,"fontWeight":"bold","align":"left","baseline":"middle","dx":-72,"dy":-20},"encoding":{"x":{"datum":0.1},"y":{"datum":5}}}
]},
{"width":96,"height":152,"layer":[
{"data":{"name":"h"},"mark":{"type":"rule","strokeDash":[2,2]},"encoding":{"y":{"field":"h","type":"quantitative","scale":{"domain":[-0.135,5],"nice":false},"axis":null}}},
{"data":{"name":"s"},"mark":{"type":"rule"},"encoding":{"x":{"field":"s","type":"quantitative","scale":{"type":"log","domain":[0.1,10]}},"y":{"datum":0,"axis":null},"y2":{"datum":5}}},
{"data":{"name":"d"},"transform":[{"filter":"datum.r=='C'&&datum.p==2"}],"mark":{"type":"line","strokeWidth":1.2,"clip":true},"encoding":{"x":{"field":"x","type":"quantitative","scale":{"type":"log","domain":[0.1,10]},"axis":{"values":[0.1,10],"offset":-4,"title":["mRNA_","syn"],"titleX":18,"titleY":13.7}},"y":{"field":"b","type":"quantitative","scale":{"domain":[-0.135,5],"nice":false},"axis":null}}},
{"data":{"name":"d"},"transform":[{"filter":"datum.r=='C'&&datum.p==2"}],"mark":{"type":"line","strokeWidth":5,"clip":true},"encoding":{"x":{"field":"x","type":"quantitative","scale":{"type":"log","domain":[0.1,10]}},"y":{"field":"a","type":"quantitative","scale":{"domain":[-0.135,5],"nice":false},"axis":null}}}
]},
{"width":96,"height":152,"layer":[
{"data":{"name":"h"},"mark":{"type":"rule","strokeDash":[2,2]},"encoding":{"y":{"field":"h","type":"quantitative","scale":{"domain":[-0.135,5],"nice":false},"axis":null}}},
{"data":{"name":"s"},"mark":{"type":"rule"},"encoding":{"x":{"field":"s","type":"quantitative","scale":{"type":"log","domain":[0.1,10]}},"y":{"datum":0,"axis":null},"y2":{"datum":5}}},
{"data":{"name":"d"},"transform":[{"filter":"datum.r=='C'&&datum.p==3"}],"mark":{"type":"line","strokeWidth":1.2,"clip":true},"encoding":{"x":{"field":"x","type":"quantitative","scale":{"type":"log","domain":[0.1,10]},"axis":{"values":[0.1,10],"offset":-4,"title":["TORC1_","phso_enz"],"titleX":9.4,"titleY":17}},"y":{"field":"b","type":"quantitative","scale":{"domain":[-0.135,5],"nice":false},"axis":null}}},
{"data":{"name":"d"},"transform":[{"filter":"datum.r=='C'&&datum.p==3"}],"mark":{"type":"line","strokeWidth":5,"clip":true},"encoding":{"x":{"field":"x","type":"quantitative","scale":{"type":"log","domain":[0.1,10]}},"y":{"field":"a","type":"quantitative","scale":{"domain":[-0.135,5],"nice":false},"axis":null}}}
]},
{"width":96,"height":152,"layer":[
{"data":{"name":"h"},"mark":{"type":"rule","strokeDash":[2,2]},"encoding":{"y":{"field":"h","type":"quantitative","scale":{"domain":[-0.135,5],"nice":false},"axis":null}}},
{"data":{"name":"s"},"mark":{"type":"rule"},"encoding":{"x":{"field":"s","type":"quantitative","scale":{"type":"log","domain":[0.1,10]}},"y":{"datum":0,"axis":null},"y2":{"datum":5}}},
{"data":{"name":"d"},"transform":[{"filter":"datum.r=='C'&&datum.p==4"}],"mark":{"type":"line","strokeWidth":1.2,"clip":true},"encoding":{"x":{"field":"x","type":"quantitative","scale":{"type":"log","domain":[0.1,10]},"axis":{"values":[0.1,10],"offset":-4,"title":["CaN_deph","os_TORC1"],"titleX":10.7,"titleY":15.4}},"y":{"field":"b","type":"quantitative","scale":{"domain":[-0.135,5],"nice":false},"axis":null}}},
{"data":{"name":"d"},"transform":[{"filter":"datum.r=='C'&&datum.p==4"}],"mark":{"type":"line","strokeWidth":5,"clip":true},"encoding":{"x":{"field":"x","type":"quantitative","scale":{"type":"log","domain":[0.1,10]}},"y":{"field":"a","type":"quantitative","scale":{"domain":[-0.135,5],"nice":false},"axis":null}}}
]},
{"width":96,"height":152,"layer":[
{"data":{"name":"h"},"mark":{"type":"rule","strokeDash":[2,2]},"encoding":{"y":{"field":"h","type":"quantitative","scale":{"domain":[-0.135,5],"nice":false},"axis":null}}},
{"data":{"name":"s"},"mark":{"type":"rule"},"encoding":{"x":{"field":"s","type":"quantitative","scale":{"type":"log","domain":[0.1,10]}},"y":{"datum":0,"axis":null},"y2":{"datum":5}}},
{"data":{"name":"d"},"transform":[{"filter":"datum.r=='C'&&datum.p==5"}],"mark":{"type":"line","strokeWidth":1.2,"clip":true},"encoding":{"x":{"field":"x","type":"quantitative","scale":{"type":"log","domain":[0.1,10]},"axis":{"values":[0.1,10],"offset":-4,"title":["basal_mRN","A_synthesis"],"titleX":6,"titleY":15.7}},"y":{"field":"b","type":"quantitative","scale":{"domain":[-0.135,5],"nice":false},"axis":null}}},
{"data":{"name":"d"},"transform":[{"filter":"datum.r=='C'&&datum.p==5"}],"mark":{"type":"line","strokeWidth":5,"clip":true},"encoding":{"x":{"field":"x","type":"quantitative","scale":{"type":"log","domain":[0.1,10]}},"y":{"field":"a","type":"quantitative","scale":{"domain":[-0.135,5],"nice":false},"axis":null}}}
]},
{"width":96,"height":152,"layer":[
{"data":{"name":"h"},"mark":{"type":"rule","strokeDash":[2,2]},"encoding":{"y":{"field":"h","type":"quantitative","scale":{"domain":[-0.135,5],"nice":false},"axis":null}}},
{"data":{"name":"s"},"mark":{"type":"rule"},"encoding":{"x":{"field":"s","type":"quantitative","scale":{"type":"log","domain":[0.1,10]}},"y":{"datum":0,"axis":null},"y2":{"datum":5}}},
{"data":{"name":"d"},"transform":[{"filter":"datum.r=='C'&&datum.p==6"}],"mark":{"type":"line","strokeWidth":1.2,"clip":true},"encoding":{"x":{"field":"x","type":"quantitative","scale":{"type":"log","domain":[0.1,10]},"axis":{"values":[0.1,10],"offset":-4,"title":["CaMKIV","dephos"],"titleX":19.7,"titleY":15.4}},"y":{"field":"b","type":"quantitative","scale":{"domain":[-0.135,5],"nice":false},"axis":null}}},
{"data":{"name":"d"},"transform":[{"filter":"datum.r=='C'&&datum.p==6"}],"mark":{"type":"line","strokeWidth":5,"clip":true},"encoding":{"x":{"field":"x","type":"quantitative","scale":{"type":"log","domain":[0.1,10]}},"y":{"field":"a","type":"quantitative","scale":{"domain":[-0.135,5],"nice":false},"axis":null}}}
]},
{"width":96,"height":152,"layer":[
{"data":{"name":"h"},"mark":{"type":"rule","strokeDash":[2,2]},"encoding":{"y":{"field":"h","type":"quantitative","scale":{"domain":[-0.135,5],"nice":false},"axis":null}}},
{"data":{"name":"s"},"mark":{"type":"rule"},"encoding":{"x":{"field":"s","type":"quantitative","scale":{"type":"log","domain":[0.1,10]}},"y":{"datum":0,"axis":null},"y2":{"datum":5}}},
{"data":{"name":"d"},"transform":[{"filter":"datum.r=='C'&&datum.p==7"}],"mark":{"type":"line","strokeWidth":1.2,"clip":true},"encoding":{"x":{"field":"x","type":"quantitative","scale":{"type":"log","domain":[0.1,10]},"axis":{"values":[0.1,10],"offset":-4,"title":["MAPKK","-deph"],"titleX":12,"titleY":13.7}},"y":{"field":"b","type":"quantitative","scale":{"domain":[-0.135,5],"nice":false},"axis":null}}},
{"data":{"name":"d"},"transform":[{"filter":"datum.r=='C'&&datum.p==7"}],"mark":{"type":"line","strokeWidth":5,"clip":true},"encoding":{"x":{"field":"x","type":"quantitative","scale":{"type":"log","domain":[0.1,10]}},"y":{"field":"a","type":"quantitative","scale":{"domain":[-0.135,5],"nice":false},"axis":null}}},
{"data":{"name":"o"},"mark":{"type":"text","text":"kcat","fontSize":19,"fontWeight":"bold","align":"center","baseline":"middle","dx":1,"dy":-1},"encoding":{"x":{"datum":1},"y":{"datum":5,"axis":null}}}
]},
{"width":96,"height":155,"layer":[
{"data":{"name":"h"},"mark":{"type":"rule","strokeDash":[2,2]},"encoding":{"y":{"field":"h","type":"quantitative","scale":{"domain":[-0.576,5],"nice":false},"axis":{"values":[0,1,2,3,4,5],"tickCount":10,"format":"d","title":"mRNA","titleY":74.5}}}},
{"data":{"name":"s"},"mark":{"type":"rule"},"encoding":{"x":{"field":"s","type":"quantitative","scale":{"type":"log","domain":[0.1,10]}},"y":{"datum":0},"y2":{"datum":5}}},
{"data":{"name":"v"},"mark":{"type":"rule","strokeDash":[2,2]},"encoding":{"x":{"field":"v","type":"quantitative","scale":{"type":"log","domain":[0.1,10]}},"y":{"datum":0},"y2":{"datum":5}}},
{"data":{"name":"d"},"transform":[{"filter":"datum.r=='D'&&datum.p==1"}],"mark":{"type":"line","strokeWidth":1.2,"clip":true},"encoding":{"x":{"field":"x","type":"quantitative","scale":{"type":"log","domain":[0.1,10]},"axis":{"values":[0.1,10],"offset":-16,"labels":true,"labelFlush":false,"format":"~g","labelPadding":{"condition":{"test":"datum.value<1","value":14},"value":9},"labelOffset":{"condition":{"test":"datum.value<1","value":-8.5},"value":0},"title":["Ca-bind","-CaNAB","-Ca2"],"titleX":11.7,"titleY":11}},"y":{"field":"b","type":"quantitative","scale":{"domain":[-0.576,5],"nice":false}}}},
{"data":{"name":"d"},"transform":[{"filter":"datum.r=='D'&&datum.p==1"}],"mark":{"type":"line","strokeWidth":5,"clip":true},"encoding":{"x":{"field":"x","type":"quantitative","scale":{"type":"log","domain":[0.1,10]}},"y":{"field":"a","type":"quantitative","scale":{"domain":[-0.576,5],"nice":false}}}},
{"data":{"name":"o"},"mark":{"type":"text","text":"D","fontSize":20,"fontWeight":"bold","align":"left","baseline":"middle","dx":-72,"dy":-27},"encoding":{"x":{"datum":0.1},"y":{"datum":5}}}
]},
{"width":96,"height":155,"layer":[
{"data":{"name":"h"},"mark":{"type":"rule","strokeDash":[2,2]},"encoding":{"y":{"field":"h","type":"quantitative","scale":{"domain":[-0.576,5],"nice":false},"axis":null}}},
{"data":{"name":"s"},"mark":{"type":"rule"},"encoding":{"x":{"field":"s","type":"quantitative","scale":{"type":"log","domain":[0.1,10]}},"y":{"datum":0,"axis":null},"y2":{"datum":5}}},
{"data":{"name":"d"},"transform":[{"filter":"datum.r=='D'&&datum.p==2"}],"mark":{"type":"line","strokeWidth":1.2,"clip":true},"encoding":{"x":{"field":"x","type":"quantitative","scale":{"type":"log","domain":[0.1,10]},"axis":{"values":[0.1,10],"offset":-16,"title":["CaM-Ca2","-bind-","CaNAB"],"titleX":14.5,"titleY":9.4}},"y":{"field":"b","type":"quantitative","scale":{"domain":[-0.576,5],"nice":false},"axis":null}}},
{"data":{"name":"d"},"transform":[{"filter":"datum.r=='D'&&datum.p==2"}],"mark":{"type":"line","strokeWidth":5,"clip":true},"encoding":{"x":{"field":"x","type":"quantitative","scale":{"type":"log","domain":[0.1,10]}},"y":{"field":"a","type":"quantitative","scale":{"domain":[-0.576,5],"nice":false},"axis":null}}}
]},
{"width":96,"height":155,"layer":[
{"data":{"name":"h"},"mark":{"type":"rule","strokeDash":[2,2]},"encoding":{"y":{"field":"h","type":"quantitative","scale":{"domain":[-0.576,5],"nice":false},"axis":null}}},
{"data":{"name":"s"},"mark":{"type":"rule"},"encoding":{"x":{"field":"s","type":"quantitative","scale":{"type":"log","domain":[0.1,10]}},"y":{"datum":0,"axis":null},"y2":{"datum":5}}},
{"data":{"name":"d"},"transform":[{"filter":"datum.r=='D'&&datum.p==3"}],"mark":{"type":"line","strokeWidth":1.2,"clip":true},"encoding":{"x":{"field":"x","type":"quantitative","scale":{"type":"log","domain":[0.1,10]},"axis":{"values":[0.1,10],"offset":-16,"title":["CaMKIV","complx"],"titleX":9.4,"titleY":14}},"y":{"field":"b","type":"quantitative","scale":{"domain":[-0.576,5],"nice":false},"axis":null}}},
{"data":{"name":"d"},"transform":[{"filter":"datum.r=='D'&&datum.p==3"}],"mark":{"type":"line","strokeWidth":5,"clip":true},"encoding":{"x":{"field":"x","type":"quantitative","scale":{"type":"log","domain":[0.1,10]}},"y":{"field":"a","type":"quantitative","scale":{"domain":[-0.576,5],"nice":false},"axis":null}}}
]},
{"width":96,"height":155,"layer":[
{"data":{"name":"h"},"mark":{"type":"rule","strokeDash":[2,2]},"encoding":{"y":{"field":"h","type":"quantitative","scale":{"domain":[-0.576,5],"nice":false},"axis":null}}},
{"data":{"name":"s"},"mark":{"type":"rule"},"encoding":{"x":{"field":"s","type":"quantitative","scale":{"type":"log","domain":[0.1,10]}},"y":{"datum":0,"axis":null},"y2":{"datum":5}}},
{"data":{"name":"d"},"transform":[{"filter":"datum.r=='D'&&datum.p==4"}],"mark":{"type":"line","strokeWidth":1.2,"clip":true},"encoding":{"x":{"field":"x","type":"quantitative","scale":{"type":"log","domain":[0.1,10]},"axis":{"values":[0.1,10],"offset":-16,"title":["CaMKIV","import"],"titleX":13,"titleY":14}},"y":{"field":"b","type":"quantitative","scale":{"domain":[-0.576,5],"nice":false},"axis":null}}},
{"data":{"name":"d"},"transform":[{"filter":"datum.r=='D'&&datum.p==4"}],"mark":{"type":"line","strokeWidth":5,"clip":true},"encoding":{"x":{"field":"x","type":"quantitative","scale":{"type":"log","domain":[0.1,10]}},"y":{"field":"a","type":"quantitative","scale":{"domain":[-0.576,5],"nice":false},"axis":null}}}
]},
{"width":96,"height":155,"layer":[
{"data":{"name":"h"},"mark":{"type":"rule","strokeDash":[2,2]},"encoding":{"y":{"field":"h","type":"quantitative","scale":{"domain":[-0.576,5],"nice":false},"axis":null}}},
{"data":{"name":"s"},"mark":{"type":"rule"},"encoding":{"x":{"field":"s","type":"quantitative","scale":{"type":"log","domain":[0.1,10]}},"y":{"datum":0,"axis":null},"y2":{"datum":5}}},
{"data":{"name":"d"},"transform":[{"filter":"datum.r=='D'&&datum.p==5"}],"mark":{"type":"line","strokeWidth":1.2,"clip":true},"encoding":{"x":{"field":"x","type":"quantitative","scale":{"type":"log","domain":[0.1,10]},"axis":{"values":[0.1,10],"offset":-16,"title":["CBP_binds","_pCREB"],"titleX":4,"titleY":15.7}},"y":{"field":"b","type":"quantitative","scale":{"domain":[-0.576,5],"nice":false},"axis":null}}},
{"data":{"name":"d"},"transform":[{"filter":"datum.r=='D'&&datum.p==5"}],"mark":{"type":"line","strokeWidth":5,"clip":true},"encoding":{"x":{"field":"x","type":"quantitative","scale":{"type":"log","domain":[0.1,10]}},"y":{"field":"a","type":"quantitative","scale":{"domain":[-0.576,5],"nice":false},"axis":null}}}
]},
{"width":96,"height":155,"layer":[
{"data":{"name":"h"},"mark":{"type":"rule","strokeDash":[2,2]},"encoding":{"y":{"field":"h","type":"quantitative","scale":{"domain":[-0.576,5],"nice":false},"axis":null}}},
{"data":{"name":"s"},"mark":{"type":"rule"},"encoding":{"x":{"field":"s","type":"quantitative","scale":{"type":"log","domain":[0.1,10]}},"y":{"datum":0,"axis":null},"y2":{"datum":5}}},
{"data":{"name":"d"},"transform":[{"filter":"datum.r=='D'&&datum.p==6"}],"mark":{"type":"line","strokeWidth":1.2,"clip":true},"encoding":{"x":{"field":"x","type":"quantitative","scale":{"type":"log","domain":[0.1,10]},"axis":{"values":[0.1,10],"offset":-16,"title":["TORC1","_import"],"titleX":17.4,"titleY":14}},"y":{"field":"b","type":"quantitative","scale":{"domain":[-0.576,5],"nice":false},"axis":null}}},
{"data":{"name":"d"},"transform":[{"filter":"datum.r=='D'&&datum.p==6"}],"mark":{"type":"line","strokeWidth":5,"clip":true},"encoding":{"x":{"field":"x","type":"quantitative","scale":{"type":"log","domain":[0.1,10]}},"y":{"field":"a","type":"quantitative","scale":{"domain":[-0.576,5],"nice":false},"axis":null}}}
]},
{"width":96,"height":155,"layer":[
{"data":{"name":"h"},"mark":{"type":"rule","strokeDash":[2,2]},"encoding":{"y":{"field":"h","type":"quantitative","scale":{"domain":[-0.576,5],"nice":false},"axis":null}}},
{"data":{"name":"s"},"mark":{"type":"rule"},"encoding":{"x":{"field":"s","type":"quantitative","scale":{"type":"log","domain":[0.1,10]}},"y":{"datum":0,"axis":null},"y2":{"datum":5}}},
{"data":{"name":"d"},"transform":[{"filter":"datum.r=='D'&&datum.p==7"}],"mark":{"type":"line","strokeWidth":1.2,"clip":true},"encoding":{"x":{"field":"x","type":"quantitative","scale":{"type":"log","domain":[0.1,10]},"axis":{"values":[0.1,10],"offset":-16,"title":["CaM-Ca3","-bind-Ca"],"titleX":9,"titleY":14}},"y":{"field":"b","type":"quantitative","scale":{"domain":[-0.576,5],"nice":false},"axis":null}}},
{"data":{"name":"d"},"transform":[{"filter":"datum.r=='D'&&datum.p==7"}],"mark":{"type":"line","strokeWidth":5,"clip":true},"encoding":{"x":{"field":"x","type":"quantitative","scale":{"type":"log","domain":[0.1,10]}},"y":{"field":"a","type":"quantitative","scale":{"domain":[-0.576,5],"nice":false},"axis":null}}},
{"data":{"name":"o"},"mark":{"type":"text","text":"Kf","fontSize":19,"fontWeight":"bold","align":"center","baseline":"middle","dx":-1,"dy":-1.5},"encoding":{"x":{"datum":1},"y":{"datum":5,"axis":null}}}
]},
{"width":96,"height":137,"layer":[
{"data":{"name":"h"},"mark":{"type":"rule","strokeDash":[2,2]},"encoding":{"y":{"field":"h","type":"quantitative","scale":{"domain":[0,5],"nice":false},"axis":{"values":[0,1,2,3,4,5],"tickCount":10,"format":"d","title":"mRNA","titleY":72.5}}}},
{"data":{"name":"s"},"mark":{"type":"rule"},"encoding":{"x":{"field":"s","type":"quantitative","scale":{"type":"log","domain":[0.1,10]}},"y":{"datum":0},"y2":{"datum":5}}},
{"data":{"name":"v"},"mark":{"type":"rule","strokeDash":[2,2]},"encoding":{"x":{"field":"v","type":"quantitative","scale":{"type":"log","domain":[0.1,10]}},"y":{"datum":0},"y2":{"datum":5}}},
{"data":{"name":"d"},"transform":[{"filter":"datum.r=='E'&&datum.p==1"}],"mark":{"type":"line","strokeWidth":1.2,"clip":true},"encoding":{"x":{"field":"x","type":"quantitative","scale":{"type":"log","domain":[0.1,10]},"axis":{"values":[0.1,10],"labels":true,"labelFlush":false,"format":"~g","labelPadding":{"condition":{"test":"datum.value<1","value":10.7},"value":8.7},"labelOffset":{"condition":{"test":"datum.value<1","value":-12},"value":4},"title":["CaM-Ca3","-bind-Ca"],"titleX":5,"titleY":12.7}},"y":{"field":"b","type":"quantitative","scale":{"domain":[0,5],"nice":false}}}},
{"data":{"name":"d"},"transform":[{"filter":"datum.r=='E'&&datum.p==1"}],"mark":{"type":"line","strokeWidth":5,"clip":true},"encoding":{"x":{"field":"x","type":"quantitative","scale":{"type":"log","domain":[0.1,10]}},"y":{"field":"a","type":"quantitative","scale":{"domain":[0,5],"nice":false}}}},
{"data":{"name":"o"},"mark":{"type":"text","text":"E","fontSize":20,"fontWeight":"bold","align":"left","baseline":"middle","dx":-72,"dy":-21.5},"encoding":{"x":{"datum":0.1},"y":{"datum":5}}}
]},
{"width":96,"height":137,"layer":[
{"data":{"name":"h"},"mark":{"type":"rule","strokeDash":[2,2]},"encoding":{"y":{"field":"h","type":"quantitative","scale":{"domain":[0,5],"nice":false},"axis":null}}},
{"data":{"name":"s"},"mark":{"type":"rule"},"encoding":{"x":{"field":"s","type":"quantitative","scale":{"type":"log","domain":[0.1,10]}},"y":{"datum":0,"axis":null},"y2":{"datum":5}}},
{"data":{"name":"d"},"transform":[{"filter":"datum.r=='E'&&datum.p==2"}],"mark":{"type":"line","strokeWidth":1.2,"clip":true},"encoding":{"x":{"field":"x","type":"quantitative","scale":{"type":"log","domain":[0.1,10]},"axis":{"values":[0.1,10],"title":["CaM-","bind-Ca"],"titleX":20.5,"titleY":14.4}},"y":{"field":"b","type":"quantitative","scale":{"domain":[0,5],"nice":false},"axis":null}}},
{"data":{"name":"d"},"transform":[{"filter":"datum.r=='E'&&datum.p==2"}],"mark":{"type":"line","strokeWidth":5,"clip":true},"encoding":{"x":{"field":"x","type":"quantitative","scale":{"type":"log","domain":[0.1,10]}},"y":{"field":"a","type":"quantitative","scale":{"domain":[0,5],"nice":false},"axis":null}}}
]},
{"width":96,"height":137,"layer":[
{"data":{"name":"h"},"mark":{"type":"rule","strokeDash":[2,2]},"encoding":{"y":{"field":"h","type":"quantitative","scale":{"domain":[0,5],"nice":false},"axis":null}}},
{"data":{"name":"s"},"mark":{"type":"rule"},"encoding":{"x":{"field":"s","type":"quantitative","scale":{"type":"log","domain":[0.1,10]}},"y":{"datum":0,"axis":null},"y2":{"datum":5}}},
{"data":{"name":"d"},"transform":[{"filter":"datum.r=='E'&&datum.p==3"}],"mark":{"type":"line","strokeWidth":1.2,"clip":true},"encoding":{"x":{"field":"x","type":"quantitative","scale":{"type":"log","domain":[0.1,10]},"axis":{"values":[0.1,10],"title":["CaM-Ca-","bind-Ca"],"titleX":10,"titleY":15.7}},"y":{"field":"b","type":"quantitative","scale":{"domain":[0,5],"nice":false},"axis":null}}},
{"data":{"name":"d"},"transform":[{"filter":"datum.r=='E'&&datum.p==3"}],"mark":{"type":"line","strokeWidth":5,"clip":true},"encoding":{"x":{"field":"x","type":"quantitative","scale":{"type":"log","domain":[0.1,10]}},"y":{"field":"a","type":"quantitative","scale":{"domain":[0,5],"nice":false},"axis":null}}}
]},
{"width":96,"height":137,"layer":[
{"data":{"name":"h"},"mark":{"type":"rule","strokeDash":[2,2]},"encoding":{"y":{"field":"h","type":"quantitative","scale":{"domain":[0,5],"nice":false},"axis":null}}},
{"data":{"name":"s"},"mark":{"type":"rule"},"encoding":{"x":{"field":"s","type":"quantitative","scale":{"type":"log","domain":[0.1,10]}},"y":{"datum":0,"axis":null},"y2":{"datum":5}}},
{"data":{"name":"d"},"transform":[{"filter":"datum.r=='E'&&datum.p==4"}],"mark":{"type":"line","strokeWidth":1.2,"clip":true},"encoding":{"x":{"field":"x","type":"quantitative","scale":{"type":"log","domain":[0.1,10]},"axis":{"values":[0.1,10],"title":["CaM-","Ca2-bind-","CaNAB"],"titleX":14.7,"titleY":9.4,"titleLineHeight":18.5}},"y":{"field":"b","type":"quantitative","scale":{"domain":[0,5],"nice":false},"axis":null}}},
{"data":{"name":"d"},"transform":[{"filter":"datum.r=='E'&&datum.p==4"}],"mark":{"type":"line","strokeWidth":5,"clip":true},"encoding":{"x":{"field":"x","type":"quantitative","scale":{"type":"log","domain":[0.1,10]}},"y":{"field":"a","type":"quantitative","scale":{"domain":[0,5],"nice":false},"axis":null}}}
]},
{"width":96,"height":137,"layer":[
{"data":{"name":"h"},"mark":{"type":"rule","strokeDash":[2,2]},"encoding":{"y":{"field":"h","type":"quantitative","scale":{"domain":[0,5],"nice":false},"axis":null}}},
{"data":{"name":"s"},"mark":{"type":"rule"},"encoding":{"x":{"field":"s","type":"quantitative","scale":{"type":"log","domain":[0.1,10]}},"y":{"datum":0,"axis":null},"y2":{"datum":5}}},
{"data":{"name":"d"},"transform":[{"filter":"datum.r=='E'&&datum.p==5"}],"mark":{"type":"line","strokeWidth":1.2,"clip":true},"encoding":{"x":{"field":"x","type":"quantitative","scale":{"type":"log","domain":[0.1,10]},"axis":{"values":[0.1,10],"title":["Ca-bind-","CaNAB","-Ca2"],"titleX":9.4,"titleY":9.4,"titleLineHeight":18.5}},"y":{"field":"b","type":"quantitative","scale":{"domain":[0,5],"nice":false},"axis":null}}},
{"data":{"name":"d"},"transform":[{"filter":"datum.r=='E'&&datum.p==5"}],"mark":{"type":"line","strokeWidth":5,"clip":true},"encoding":{"x":{"field":"x","type":"quantitative","scale":{"type":"log","domain":[0.1,10]}},"y":{"field":"a","type":"quantitative","scale":{"domain":[0,5],"nice":false},"axis":null}}}
]},
{"width":96,"height":137,"layer":[
{"data":{"name":"h"},"mark":{"type":"rule","strokeDash":[2,2]},"encoding":{"y":{"field":"h","type":"quantitative","scale":{"domain":[0,5],"nice":false},"axis":null}}},
{"data":{"name":"s"},"mark":{"type":"rule"},"encoding":{"x":{"field":"s","type":"quantitative","scale":{"type":"log","domain":[0.1,10]}},"y":{"datum":0,"axis":null},"y2":{"datum":5}}},
{"data":{"name":"d"},"transform":[{"filter":"datum.r=='E'&&datum.p==6"}],"mark":{"type":"line","strokeWidth":1.2,"clip":true},"encoding":{"x":{"field":"x","type":"quantitative","scale":{"type":"log","domain":[0.1,10]},"axis":{"values":[0.1,10],"title":["TORC1","_import"],"titleX":14.7,"titleY":14.4}},"y":{"field":"b","type":"quantitative","scale":{"domain":[0,5],"nice":false},"axis":null}}},
{"data":{"name":"d"},"transform":[{"filter":"datum.r=='E'&&datum.p==6"}],"mark":{"type":"line","strokeWidth":5,"clip":true},"encoding":{"x":{"field":"x","type":"quantitative","scale":{"type":"log","domain":[0.1,10]}},"y":{"field":"a","type":"quantitative","scale":{"domain":[0,5],"nice":false},"axis":null}}}
]},
{"width":96,"height":137,"layer":[
{"data":{"name":"h"},"mark":{"type":"rule","strokeDash":[2,2]},"encoding":{"y":{"field":"h","type":"quantitative","scale":{"domain":[0,5],"nice":false},"axis":null}}},
{"data":{"name":"s"},"mark":{"type":"rule"},"encoding":{"x":{"field":"s","type":"quantitative","scale":{"type":"log","domain":[0.1,10]}},"y":{"datum":0,"axis":null},"y2":{"datum":5}}},
{"data":{"name":"d"},"transform":[{"filter":"datum.r=='E'&&datum.p==7"}],"mark":{"type":"line","strokeWidth":1.2,"clip":true},"encoding":{"x":{"field":"x","type":"quantitative","scale":{"type":"log","domain":[0.1,10]},"axis":{"values":[0.1,10],"title":["CBP_binds","_pCREB"],"titleX":7.4,"titleY":14.4}},"y":{"field":"b","type":"quantitative","scale":{"domain":[0,5],"nice":false},"axis":null}}},
{"data":{"name":"d"},"transform":[{"filter":"datum.r=='E'&&datum.p==7"}],"mark":{"type":"line","strokeWidth":5,"clip":true},"encoding":{"x":{"field":"x","type":"quantitative","scale":{"type":"log","domain":[0.1,10]}},"y":{"field":"a","type":"quantitative","scale":{"domain":[0,5],"nice":false},"axis":null}}},
{"data":{"name":"o"},"mark":{"type":"text","text":"Kb","fontSize":19,"fontWeight":"bold","align":"center","baseline":"middle","dx":0,"dy":2},"encoding":{"x":{"datum":1},"y":{"datum":5,"axis":null}}}
]}
]
}
